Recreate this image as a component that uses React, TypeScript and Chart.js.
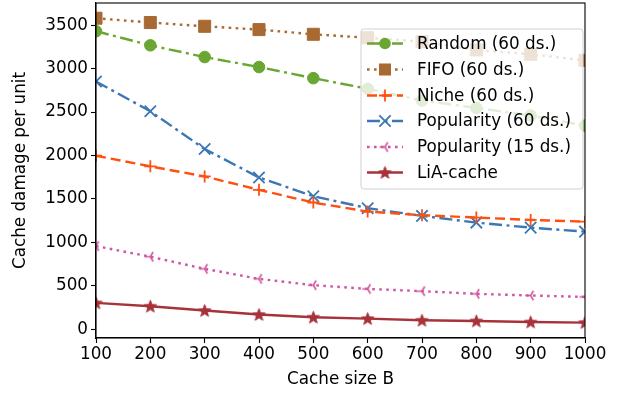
import React, { useEffect, useRef } from "react";
import { Chart, registerables } from "chart.js";

Chart.register(...registerables);

// Cache sizes (x values)
const cacheSizes = [100, 200, 300, 400, 500, 600, 700, 800, 900, 1000];

// Cache damage per unit for each policy
const randomVals = [3430, 3268, 3133, 3018, 2890, 2768, 2633, 2548, 2460, 2344];
const fifoVals = [3580, 3530, 3487, 3449, 3395, 3355, 3310, 3215, 3165, 3095];
const nicheVals = [1998, 1875, 1759, 1605, 1459, 1355, 1313, 1286, 1259, 1239];
const pop60Vals = [2852, 2509, 2075, 1747, 1532, 1394, 1305, 1228, 1170, 1124];
const pop15Vals = [958, 835, 696, 581, 508, 465, 439, 408, 389, 373];
const liaVals = [304, 266, 216, 170, 139, 123, 104, 96, 84, 77];

const seriesLabels = [
  "Random (60 ds.)",
  "FIFO (60 ds.)",
  "Niche (60 ds.)",
  "Popularity (60 ds.)",
  "Popularity (15 ds.)",
  "LiA-cache",
];

const xTicks = [100, 200, 300, 400, 500, 600, 700, 800, 900, 1000];
const yTicks = [0, 500, 1000, 1500, 2000, 2500, 3000, 3500];

const FONT = "'DejaVu Sans', sans-serif";
const FS = 16.8;

function makeStar(color: string, r: number): HTMLCanvasElement {
  const c = document.createElement("canvas");
  const s = Math.ceil(r * 2 + 4);
  c.width = s;
  c.height = s;
  const ctx = c.getContext("2d")!;
  const cx = s / 2;
  const cy = s / 2 + 0.5;
  ctx.beginPath();
  for (let i = 0; i < 10; i++) {
    const rad = i % 2 === 0 ? r : r * 0.42;
    const a = -Math.PI / 2 + (i * Math.PI) / 5;
    const px = cx + rad * Math.cos(a);
    const py = cy + rad * Math.sin(a);
    if (i === 0) ctx.moveTo(px, py);
    else ctx.lineTo(px, py);
  }
  ctx.closePath();
  ctx.fillStyle = color;
  ctx.fill();
  ctx.strokeStyle = color;
  ctx.lineWidth = 1;
  ctx.stroke();
  return c;
}

function makeTriLeft(color: string, r: number): HTMLCanvasElement {
  const c = document.createElement("canvas");
  const s = Math.ceil(r * 2 + 4);
  c.width = s;
  c.height = s;
  const ctx = c.getContext("2d")!;
  const cx = s / 2;
  const cy = s / 2;
  ctx.strokeStyle = color;
  ctx.lineWidth = 1.6;
  ctx.beginPath();
  [Math.PI, Math.PI / 3, -Math.PI / 3].forEach((a) => {
    ctx.moveTo(cx, cy);
    ctx.lineTo(cx + r * Math.cos(a), cy - r * Math.sin(a));
  });
  ctx.stroke();
  return c;
}

const COLORS = ["#6aa632", "#a86a32", "#ff5010", "#3a77b4", "#d0559f", "#a8323a"];
const DASHES: number[][] = [[13, 4.5, 3, 4.5], [2.6, 4.4], [10, 5], [13, 4.5, 3, 4.5], [2.6, 4.4], []];

export default function App() {
  const ref = useRef<HTMLCanvasElement | null>(null);

  useEffect(() => {
    if (!ref.current) return;
    const star = makeStar(COLORS[5], 6.5);
    const tri = makeTriLeft(COLORS[4], 5.5);
    const styles: any[] = ["circle", "rect", "cross", "crossRot", tri, star];
    const radii = [5.8, 8.5, 6, 8, 6, 6];
    const values = [randomVals, fifoVals, nicheVals, pop60Vals, pop15Vals, liaVals];

    const datasets = values.map((vals, i) => ({
      label: seriesLabels[i],
      data: cacheSizes.map((x, j) => ({ x, y: vals[j] })),
      borderColor: COLORS[i],
      backgroundColor: COLORS[i],
      borderWidth: 2.4,
      borderDash: DASHES[i],
      pointStyle: styles[i],
      pointRadius: radii[i],
      pointBorderWidth: i === 2 || i === 3 ? 1.8 : 1,
      pointBorderColor: COLORS[i],
      pointBackgroundColor: COLORS[i],
      fill: false,
      tension: 0,
    }));

    // Legend box with line sample and marker for each series
    const markerLegend = {
      id: "markerLegend",
      afterDatasetsDraw(chart: any) {
        const ctx = chart.ctx as CanvasRenderingContext2D;
        const bx = 361, by = 29, bw = 222, bh = 160;
        ctx.save();
        ctx.beginPath();
        const r = 3;
        ctx.moveTo(bx + r, by);
        ctx.arcTo(bx + bw, by, bx + bw, by + bh, r);
        ctx.arcTo(bx + bw, by + bh, bx, by + bh, r);
        ctx.arcTo(bx, by + bh, bx, by, r);
        ctx.arcTo(bx, by, bx + bw, by, r);
        ctx.closePath();
        ctx.fillStyle = "rgba(255,255,255,0.8)";
        ctx.fill();
        ctx.strokeStyle = "#d0d0d0";
        ctx.lineWidth = 1;
        ctx.stroke();

        const rowY = [43.5, 69.5, 95.5, 121, 147, 172.5];
        seriesLabels.forEach((label, i) => {
          const y = rowY[i];
          const x0 = 367, x1 = 403, xm = 385;
          ctx.strokeStyle = COLORS[i];
          ctx.lineWidth = 2.4;
          ctx.setLineDash(DASHES[i]);
          ctx.beginPath();
          ctx.moveTo(x0, y);
          ctx.lineTo(x1, y);
          ctx.stroke();
          ctx.setLineDash([]);
          const st = styles[i];
          const rr = radii[i];
          ctx.fillStyle = COLORS[i];
          ctx.strokeStyle = COLORS[i];
          if (st === "circle") {
            ctx.beginPath();
            ctx.arc(xm, y, rr, 0, Math.PI * 2);
            ctx.fill();
          } else if (st === "rect") {
            const h = rr * Math.SQRT1_2;
            ctx.fillRect(xm - h, y - h, h * 2, h * 2);
          } else if (st === "cross") {
            ctx.lineWidth = 1.8;
            ctx.beginPath();
            ctx.moveTo(xm - rr, y);
            ctx.lineTo(xm + rr, y);
            ctx.moveTo(xm, y - rr);
            ctx.lineTo(xm, y + rr);
            ctx.stroke();
          } else if (st === "crossRot") {
            ctx.lineWidth = 1.8;
            const d = rr * Math.SQRT1_2;
            ctx.beginPath();
            ctx.moveTo(xm - d, y - d);
            ctx.lineTo(xm + d, y + d);
            ctx.moveTo(xm - d, y + d);
            ctx.lineTo(xm + d, y - d);
            ctx.stroke();
          } else {
            const img = st as HTMLCanvasElement;
            ctx.drawImage(img, xm - img.width / 2, y - img.height / 2);
          }
          ctx.fillStyle = "#000";
          ctx.font = `${FS}px ${FONT}`;
          ctx.textBaseline = "middle";
          ctx.textAlign = "left";
          ctx.fillText(label, 417, y + 1);
        });
        ctx.restore();
      },
    };

    // Closed box around the plot area
    const frame = {
      id: "frame",
      afterDraw(chart: any) {
        const { left, right, top, bottom } = chart.chartArea;
        const ctx = chart.ctx as CanvasRenderingContext2D;
        ctx.save();
        ctx.strokeStyle = "#000";
        ctx.lineWidth = 1.1;
        ctx.strokeRect(left, top, right - left, bottom - top);
        ctx.restore();
      },
    };

    const chart = new Chart(ref.current, {
      type: "line",
      data: { datasets: datasets as any },
      options: {
        responsive: false,
        animation: false,
        devicePixelRatio: 1,
        layout: { autoPadding: false, padding: { top: 3, right: 41, left: 0, bottom: 0 } },
        plugins: { legend: { display: false }, tooltip: { enabled: false } },
        scales: {
          x: {
            type: "linear",
            min: 100,
            max: 1000,
            afterFit: (s: any) => {
              s.height = 58;
            },
            afterBuildTicks: (s: any) => {
              s.ticks = xTicks.map((v) => ({ value: v }));
            },
            ticks: {
              color: "#000",
              font: { family: FONT, size: FS },
              padding: 2,
              maxRotation: 0,
              autoSkip: false,
              callback: (v: any) => String(v),
            },
            grid: {
              drawOnChartArea: false,
              drawTicks: true,
              tickLength: 5,
              color: "#000",
              tickWidth: 1.1,
            },
            border: { color: "#000", width: 1.1 },
            title: {
              display: true,
              text: "Cache size B",
              color: "#000",
              font: { family: FONT, size: FS },
              padding: { top: 0, bottom: 6 },
            },
          },
          y: {
            type: "linear",
            min: -100,
            max: 3755,
            afterFit: (s: any) => {
              s.width = 96;
              s.paddingTop = 0;
              s.paddingBottom = 0;
            },
            afterBuildTicks: (s: any) => {
              s.ticks = yTicks.map((v) => ({ value: v }));
            },
            ticks: {
              color: "#000",
              font: { family: FONT, size: FS },
              padding: 3,
              autoSkip: false,
              callback: (v: any) => String(v),
            },
            grid: {
              drawOnChartArea: false,
              drawTicks: true,
              tickLength: 5,
              color: "#000",
              tickWidth: 1.1,
            },
            border: { color: "#000", width: 1.1 },
            title: {
              display: true,
              text: "Cache damage per unit",
              color: "#000",
              font: { family: FONT, size: FS },
              padding: { top: 11, bottom: 0 },
            },
          },
        },
      },
      plugins: [markerLegend, frame],
    });
    return () => chart.destroy();
  }, []);

  return (
    <div style={{ position: "absolute", left: 0, top: 0, width: 626, height: 396, background: "#fff" }}>
      <canvas ref={ref} width={626} height={396} style={{ width: 626, height: 396 }} />
    </div>
  );
}
